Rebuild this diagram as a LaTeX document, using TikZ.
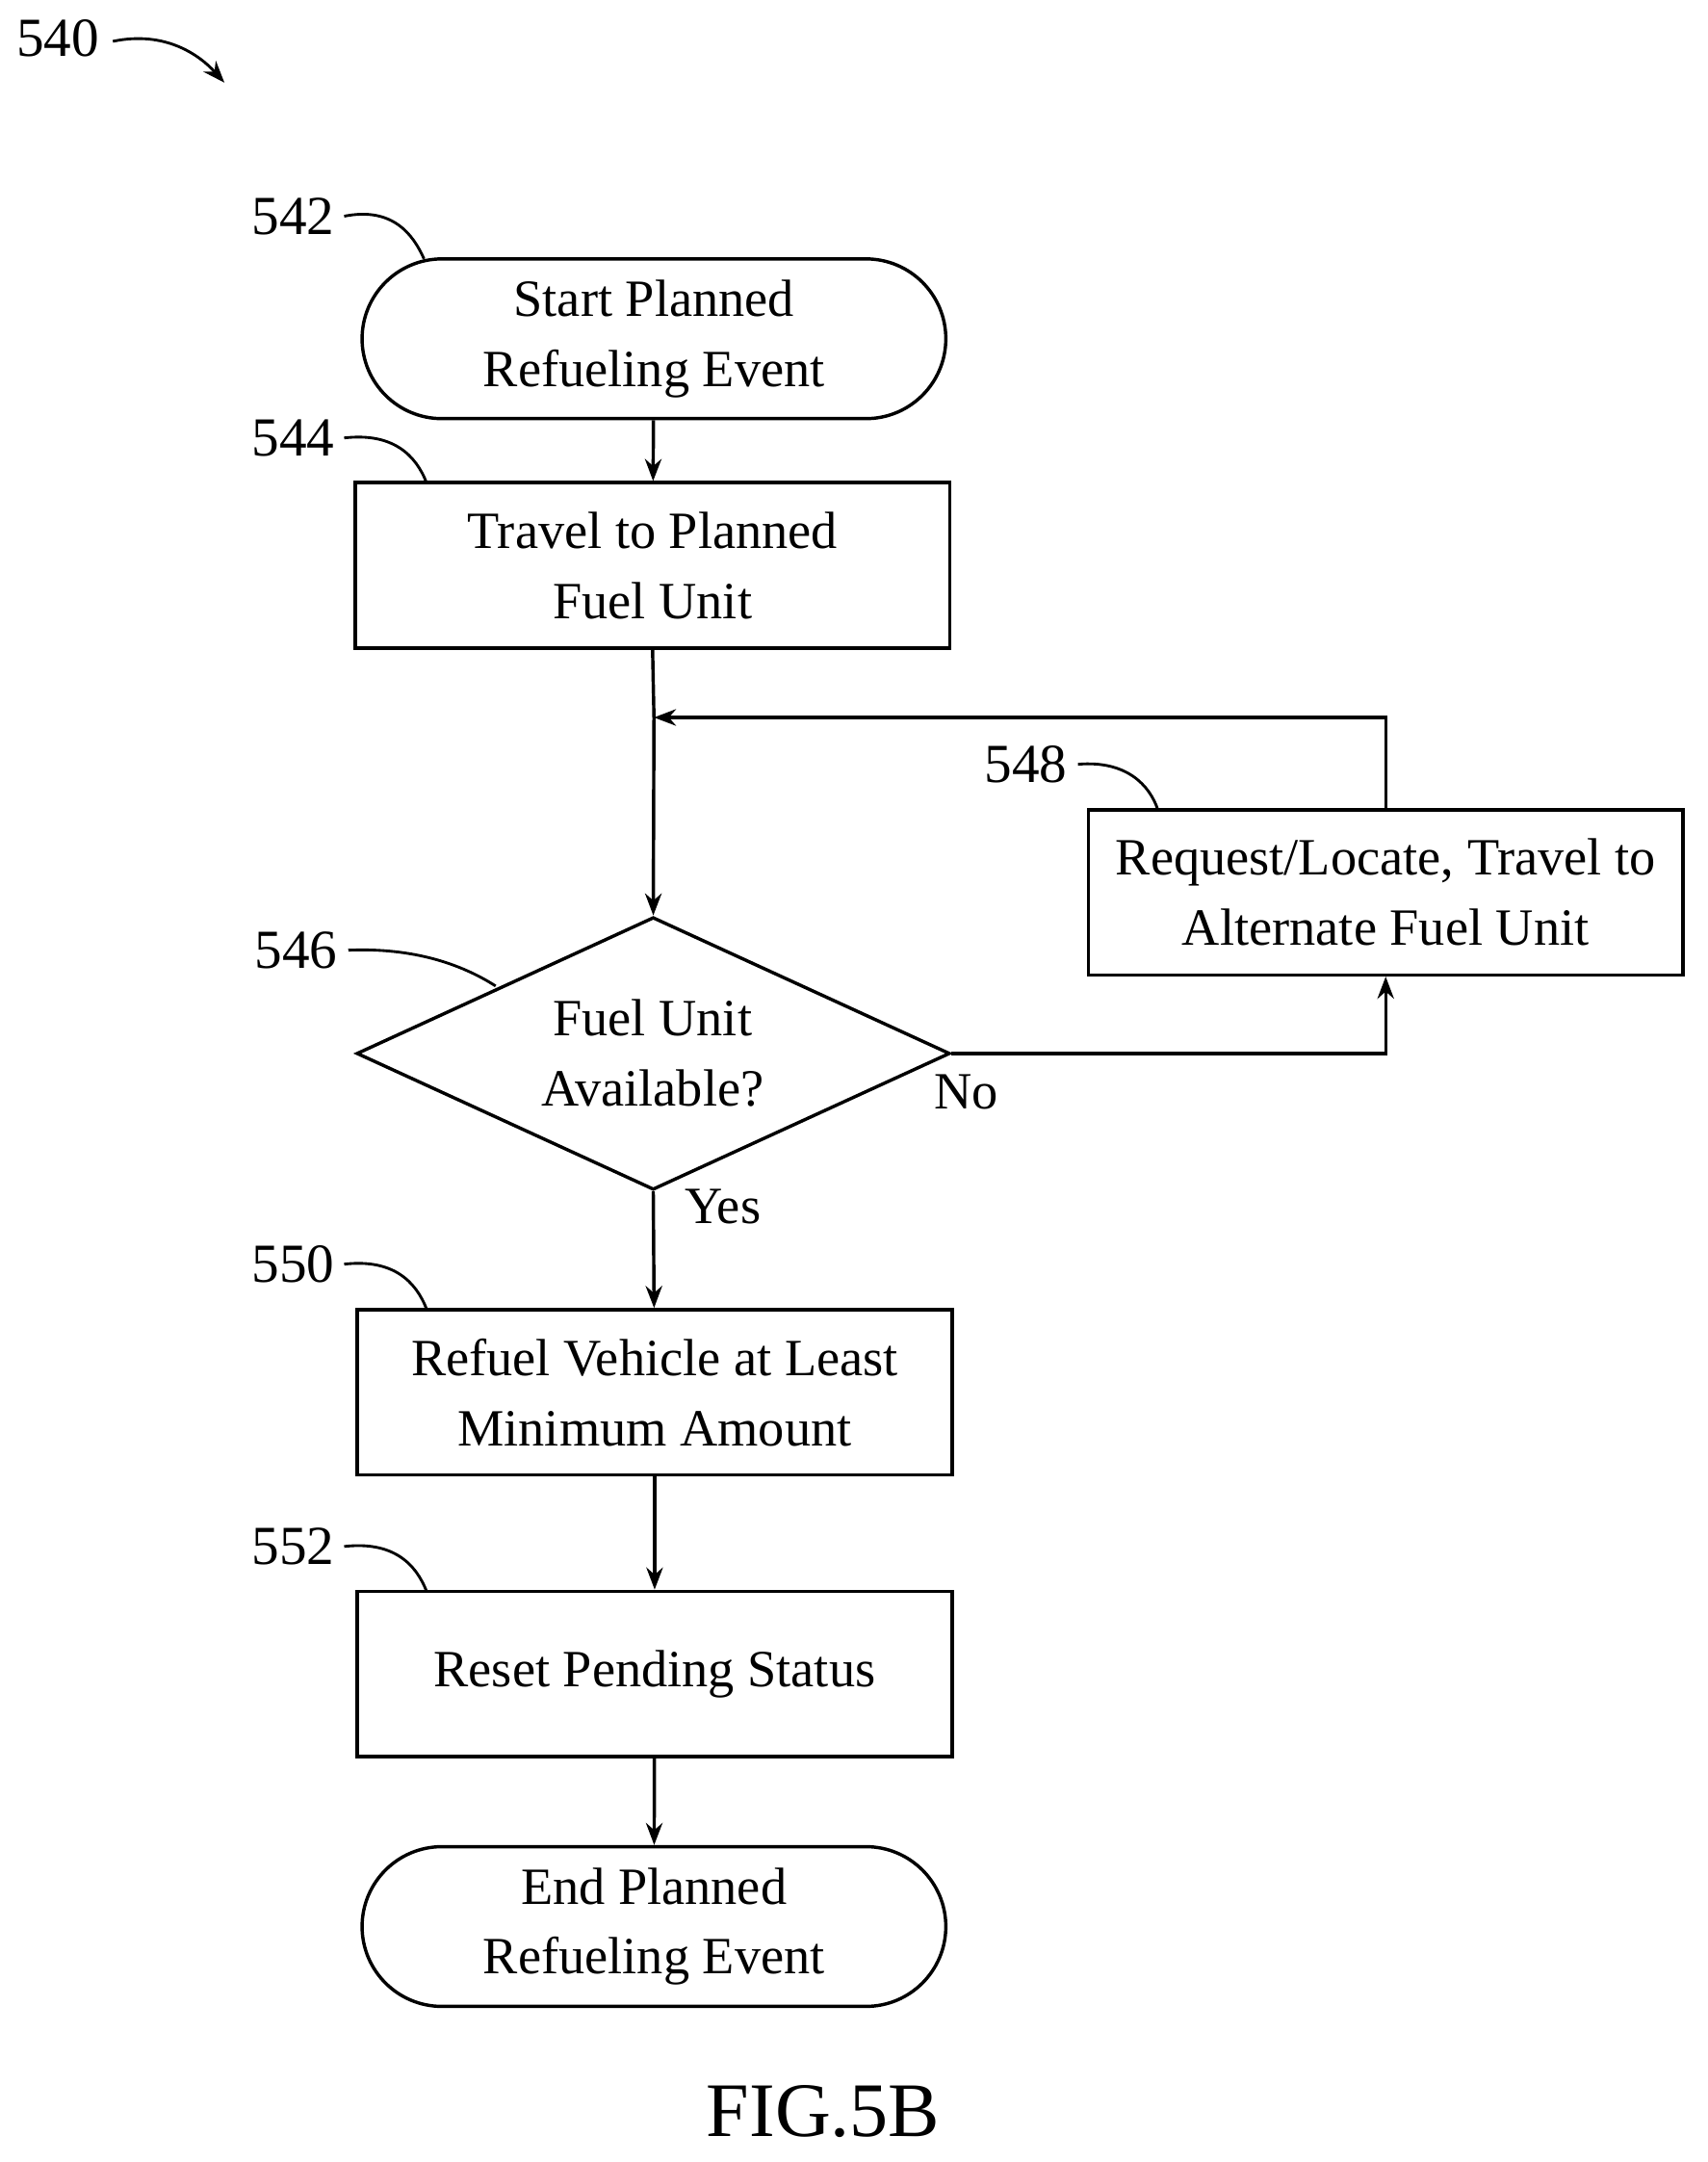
\documentclass[tikz,border=0pt]{standalone}
\usepackage{fontspec}
\setmainfont{Liberation Serif}
\usetikzlibrary{arrows.meta,shapes.geometric}
\begin{document}
\begin{tikzpicture}[x=0.5pt,y=-0.5pt,
  every node/.style={font=\fontsize{19}{25.5}\selectfont},
  box/.style={draw,line width=1.2pt,minimum width=216pt,minimum height=60pt,align=center,inner sep=0pt},
  term/.style={box,rounded corners=29pt,minimum width=212pt,minimum height=58pt},
  arr/.style={-{Stealth[length=8pt,width=6pt]},line width=1.2pt},
  lead/.style={line width=1pt},
  lbl/.style={font=\fontsize{20}{24}\selectfont}]
\useasboundingbox (0,0) rectangle (1240,1570);
\node[term] (s) at (475,246) {Start Planned\\Refueling Event};
\node[box] (b544) at (474,410.5) {Travel to Planned\\Fuel Unit};
\node[box] (b548) at (1006.5,648) {Request/Locate, Travel to\\Alternate Fuel Unit};
\node[draw,line width=1.2pt,diamond,minimum width=215.5pt,minimum height=99pt,inner sep=0pt,align=center] (d) at (474.5,765) {};
\node[align=center] at (474,765) {Fuel Unit\\Available?};
\node[box] (b550) at (475.5,1011) {Refuel Vehicle at Least\\Minimum Amount};
\node[box] (b552) at (475.5,1215.5) {Reset Pending Status};
\node[term] (e) at (475,1399) {End Planned\\Refueling Event};
\coordinate (j) at (475,521);
\draw[arr] (s) -- (b544);
\draw[line width=1.2pt] (b544.south) -- (j);
\draw[arr] (j) -- (d.north);
\draw[arr] (b548.north) |- (j);
\draw[arr] (d.east) -| (b548.south);
\draw[arr] (d.south) -- (b550);
\draw[arr] (b550) -- (b552);
\draw[arr] (b552) -- (e);
\node at (702,793) {No};
\node at (525,876) {Yes};
\node[lbl] (l540) at (42,28) {540};
\draw[lead,-{Stealth[length=8pt,width=6pt]}] (82,30) .. controls (120,22) and (145,40) .. (163,60);
\node[lbl] (l542) at (213,157) {542};
\draw[lead] (250,157) .. controls (285,150) and (300,170) .. (308,188);
\node[lbl] (l544) at (213,318) {544};
\draw[lead] (250,318) .. controls (285,314) and (302,330) .. (310,351);
\node[lbl] (l548) at (745,555) {548};
\draw[lead] (783,555) .. controls (818,552) and (835,570) .. (841,588);
\node[lbl] (l546) at (215,690) {546};
\draw[lead] (253,690) .. controls (300,688) and (335,700) .. (360,716);
\node[lbl] (l550) at (213,918) {550};
\draw[lead] (250,918) .. controls (285,914) and (302,930) .. (310,951);
\node[lbl] (l552) at (213,1123) {552};
\draw[lead] (250,1123) .. controls (285,1119) and (302,1135) .. (310,1156);
\node[font=\fontsize{28}{32}\selectfont] at (598,1533) {FIG.5B};
\end{tikzpicture}
\end{document}
